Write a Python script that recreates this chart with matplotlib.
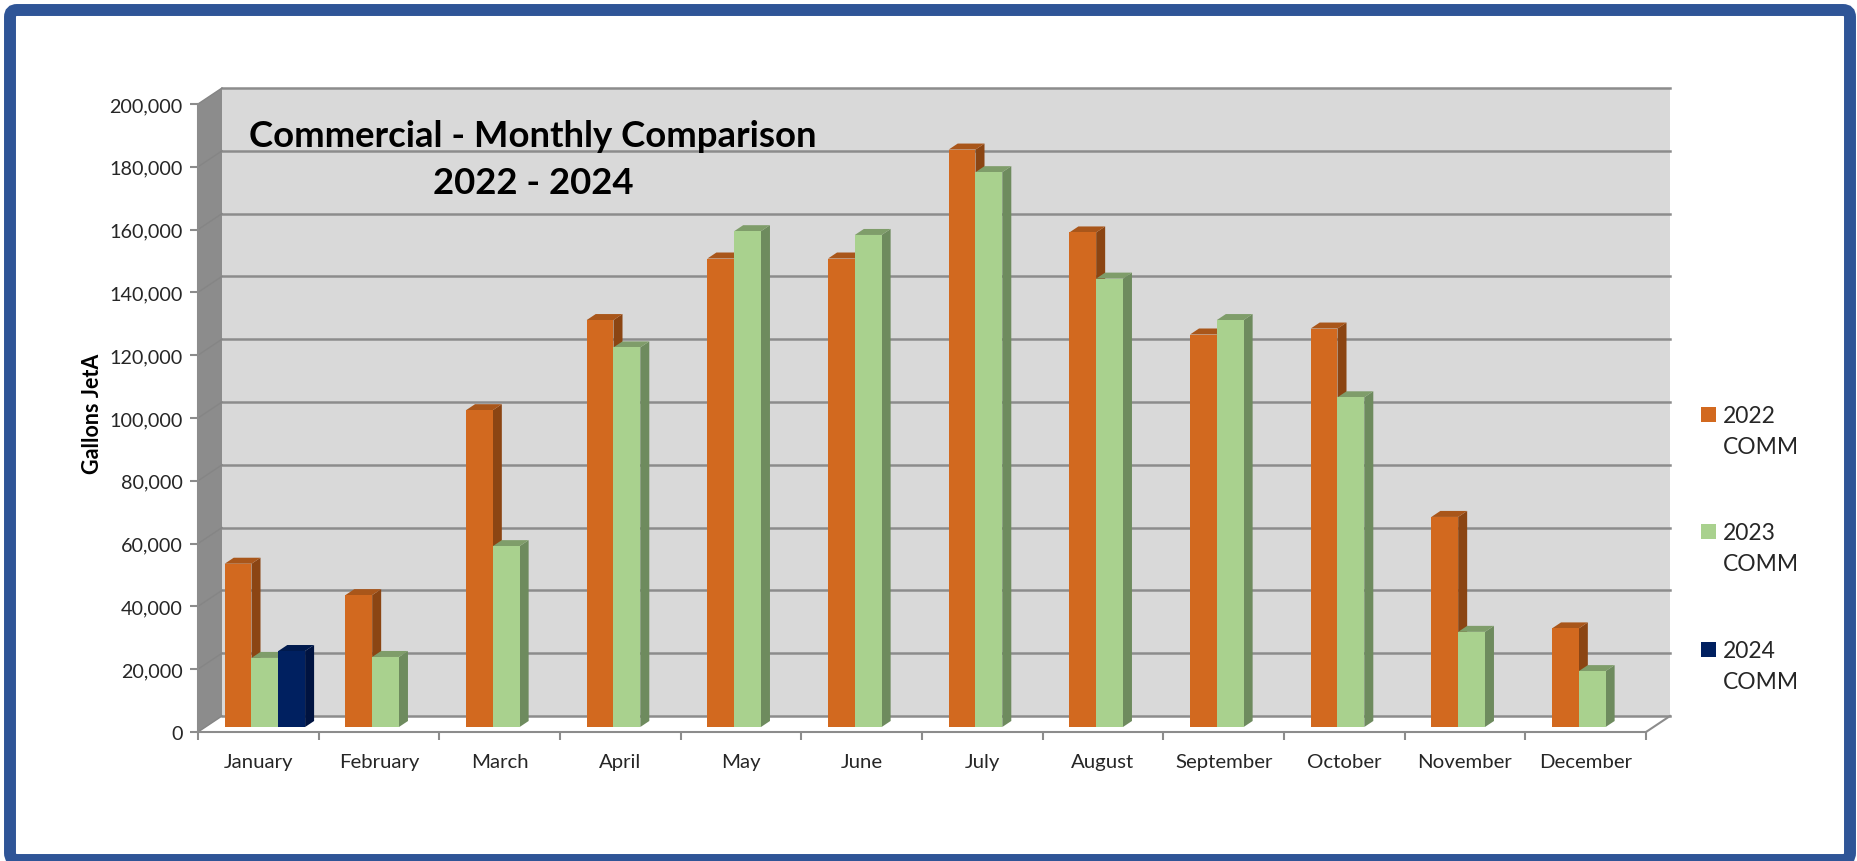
import matplotlib
matplotlib.use('Agg')
import matplotlib.pyplot as plt
from matplotlib.patches import FancyBboxPatch, Rectangle
from matplotlib.transforms import IdentityTransform


months = ['January', 'February', 'March', 'April', 'May', 'June', 'July',
          'August', 'September', 'October', 'November', 'December']
comm_2022 = [52000, 42000, 100900, 129600, 149200, 149200, 183900, 157500, 125000, 126900, 66900, 31400]
comm_2023 = [22000, 22300, 57600, 120900, 157900, 156700, 176700, 142800, 129600, 105000, 30300, 17800]
comm_2024 = [24200]
y_ticks = [0, 20000, 40000, 60000, 80000, 100000, 120000, 140000, 160000, 180000, 200000]
series_labels = ['2022\nCOMM', '2023\nCOMM', '2024\nCOMM']

# front, side, top
orange = ('#D2691F', '#8B4513', '#A9561A')
green = ('#A9D18E', '#6E8B5E', '#7F9D6A')
navy = ('#002060', '#001340', '#001A4D')

W, H = 1858, 862
plt.rcParams['font.family'] = ['Lato', 'DejaVu Sans']

fig = plt.figure(figsize=(W / 100, H / 100), dpi=100)
ax = fig.add_axes([198 / W, 1 - 733 / H, 1448 / W, 628 / H])
ax.set_xlim(0, 12)
ax.set_ylim(0, 200000)
ax.patch.set_visible(False)

# fake 3d depth in data units
wall_dx = 24 / 120.67
wall_dy = 16 / 628 * 200000
bar_dx = 9 / 120.67
bar_dy = 6 / 628 * 200000
plane_dx = 7 / 120.67
plane_dy = 5 / 628 * 200000
bar_w = 26.8 / 120.67
grid = '#8C8C8C'

# walls and floor
ax.fill([wall_dx, 12 + wall_dx, 12 + wall_dx, wall_dx],
        [wall_dy, wall_dy, 200000 + wall_dy, 200000 + wall_dy],
        color='#D9D9D9', lw=0, zorder=1, clip_on=False)
ax.fill([0, wall_dx, wall_dx, 0], [0, wall_dy, 200000 + wall_dy, 200000],
        color='#8C8C8C', lw=0, zorder=1, clip_on=False)
ax.plot([12, 12 + wall_dx], [0, wall_dy], color=grid, lw=1.5, zorder=2, clip_on=False)
for t in y_ticks:
    ax.plot([wall_dx, 12 + wall_dx], [t + wall_dy, t + wall_dy], color=grid, lw=1.8, zorder=2, clip_on=False)
    ax.plot([0, wall_dx], [t, t + wall_dy], color='#858585', lw=1, zorder=2, clip_on=False)


def draw_bar(x, v, cols, z):
    x0 = x + plane_dx
    y0 = plane_dy
    top = y0 + v
    x1 = x0 + bar_w
    ax.fill([x1, x1 + bar_dx, x1 + bar_dx, x1], [y0, y0 + bar_dy, top + bar_dy, top],
            color=cols[1], lw=0, zorder=z, clip_on=False)
    ax.fill([x0, x1, x1 + bar_dx, x0 + bar_dx], [top, top, top + bar_dy, top + bar_dy],
            color=cols[2], lw=0, zorder=z, clip_on=False)
    ax.fill([x0, x1, x1, x0], [y0, y0, top, top], color=cols[0], lw=0, zorder=z + 0.5, clip_on=False)


start = 19.7 / 120.67
for i in range(12):
    draw_bar(i + start, comm_2022[i], orange, 3 + i)
    draw_bar(i + start + bar_w, comm_2023[i], green, 3.1 + i)
    if i < len(comm_2024):
        draw_bar(i + start + 2 * bar_w, comm_2024[i], navy, 3.2 + i)

# axes
for s in ['top', 'right']:
    ax.spines[s].set_visible(False)
for s in ['left', 'bottom']:
    ax.spines[s].set_color(grid)
    ax.spines[s].set_linewidth(1.5)
    ax.spines[s].set_zorder(20)
ax.set_yticks(y_ticks)
ax.set_yticklabels([f'{t:,}' for t in y_ticks], fontsize=14.2, color='#262626')
ax.set_xticks(range(13))
ax.set_xticklabels([])
ax.set_xticks([i + 0.5 for i in range(12)], labels=months, minor=True, fontsize=14.7, color='#262626')
ax.tick_params(axis='y', length=6, width=1.5, color=grid, pad=5)
ax.tick_params(axis='x', which='major', length=6, width=1.5, color=grid)
ax.tick_params(axis='x', which='minor', length=0, pad=15)

fig.text(93 / W, 1 - 414 / H, 'Gallons JetA', rotation=90, ha='center', va='center',
         fontsize=15.5, fontweight='bold', color='black')
fig.text(533 / W, 1 - 160 / H, 'Commercial - Monthly Comparison\n2022 - 2024', ha='center', va='center',
         fontsize=26.3, fontweight='bold', color='black', linespacing=1.5)

# legend, square sits on the first line of each label
legend_cols = [orange[0], green[0], navy[0]]
legend_y = [415, 532, 650]
for lab, col, y in zip(series_labels, legend_cols, legend_y):
    fig.add_artist(Rectangle((1701 / W, 1 - (y + 8) / H), 15 / W, 15 / H, transform=fig.transFigure,
                             facecolor=col, edgecolor='none'))
    fig.text(1723 / W, 1 - (y + 17) / H, lab, ha='left', va='center', fontsize=16.5,
             color='#262626', linespacing=1.6)

# blue frame, display coords so the corner stays round
fig.add_artist(FancyBboxPatch((10, 1), 1840, 850, boxstyle='round,pad=0,rounding_size=7',
                              transform=IdentityTransform(), fill=False,
                              edgecolor='#2F5597', lw=8.6))

fig.savefig('out.png', dpi=100)
